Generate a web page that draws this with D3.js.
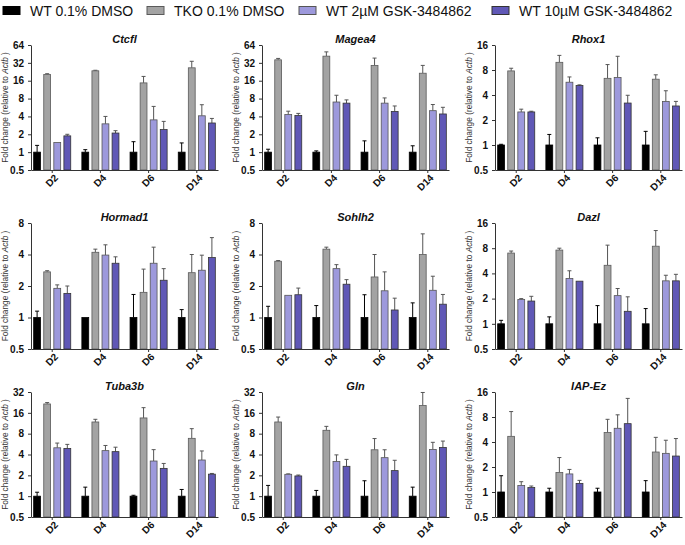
<!DOCTYPE html>
<html>
<head>
<meta charset="utf-8">
<script src="https://cdn.jsdelivr.net/npm/d3@7"></script>
<style>
  body { margin: 0; background: #fff; }
  svg { display: block; font-family: "Liberation Sans", Arial, sans-serif; }
</style>
</head>
<body>
<div id="chart"></div>
<script>
// ---- data ----
const days = ['D2', 'D4', 'D6', 'D14'];
const seriesNames = ['WT 0.1% DMSO', 'TKO 0.1% DMSO', 'WT 2\u00b5M GSK-3484862', 'WT 10\u00b5M GSK-3484862'];
const seriesColors = ['#000000', '#a3a3a3', '#9d99dc', '#6058b6'];
const seriesStroke = ['#000000', '#5a5a5a', '#555555', '#333333'];

const genes = ['Ctcfl', 'Magea4', 'Rhox1', 'Hormad1', 'Sohlh2', 'Dazl', 'Tuba3b', 'Gln', 'IAP-Ez'];
const yTopValues = [64, 64, 16, 8, 8, 16, 32, 32, 16];

// mean per day (rows) x series (cols); err = top of error bar
const ctcflMean   = [[1, 20.4, 1.45, 1.88], [1, 23.5, 3.0, 2.1], [1, 14.7, 3.5, 2.4], [1, 26.4, 4.1, 3.1]];
const ctcflErr    = [[1.3, 21, 1.45, 2.0], [1.1, 24, 4.0, 2.3], [1.5, 18.9, 5.9, 3.3], [1.43, 34, 6.3, 3.7]];
const magea4Mean  = [[1, 36, 4.3, 4.15], [1, 41.5, 7.0, 6.7], [1, 29, 6.7, 4.85], [1, 21.4, 5.0, 4.4]];
const magea4Err   = [[1.12, 38, 4.9, 4.5], [1.05, 49, 9.1, 7.6], [1.55, 38.5, 8.2, 6.0], [1.28, 29, 6.35, 5.7]];
const rhox1Mean   = [[1, 7.8, 2.5, 2.5], [1, 9.9, 5.7, 5.2], [1, 6.35, 6.5, 3.2], [1, 6.2, 3.35, 2.95]];
const rhox1Err    = [[1.02, 8.4, 2.7, 2.55], [1.34, 12, 6.6, 5.3], [1.22, 9.3, 11.7, 3.97], [1.46, 7.0, 4.5, 3.35]];
const hormad1Mean = [[1, 2.73, 1.9, 1.7], [1, 4.2, 3.95, 3.3], [1, 1.74, 3.3, 2.27], [1, 2.68, 2.83, 3.74]];
const hormad1Err  = [[1.15, 2.8, 2.05, 2.0], [1, 4.5, 4.95, 3.8], [1.66, 2.9, 4.7, 2.93], [1.19, 4.0, 3.94, 5.8]];
const sohlh2Mean  = [[1, 3.45, 1.63, 1.65], [1, 4.5, 2.93, 2.08], [1, 2.44, 1.8, 1.18], [1, 4.0, 1.82, 1.34]];
const sohlh2Err   = [[1.28, 3.5, 1.63, 1.91], [1.3, 4.7, 3.2, 2.3], [1.65, 4.0, 2.73, 1.53], [1.38, 6.3, 2.48, 1.66]];
const dazlMean    = [[1, 7.0, 1.95, 1.87], [1, 7.6, 3.48, 3.23], [1, 5.0, 2.17, 1.41], [1, 8.45, 3.26, 3.26]];
const dazlErr     = [[1.1, 7.4, 2.0, 2.13], [1.21, 8.0, 4.3, 3.23], [1.65, 8.7, 2.64, 2.1], [1.52, 13, 3.8, 3.9]];
const tuba3bMean  = [[1, 21.5, 5.0, 4.9], [1, 11.8, 4.55, 4.4], [1, 13.5, 3.22, 2.52], [1, 6.85, 3.33, 2.08]];
const tuba3bErr   = [[1.14, 22.5, 5.85, 5.6], [1.35, 12.9, 5.4, 5.1], [1.03, 19, 4.7, 2.97], [1.25, 9.45, 4.5, 2.13]];
const glnMean     = [[1, 11.8, 2.07, 1.96], [1, 8.95, 3.16, 2.7], [1, 4.68, 3.6, 2.34], [1, 20.4, 4.73, 5.06]];
const glnErr      = [[1.43, 13.9, 2.1, 2.02], [1.21, 10.2, 3.95, 3.4], [1.67, 6.8, 4.68, 3.3], [1.35, 31.5, 6.0, 6.25]];
const iapEzMean   = [[1, 4.68, 1.2, 1.13], [1, 1.72, 1.65, 1.27], [1, 5.2, 5.85, 6.65], [1, 3.03, 2.92, 2.71]];
const iapEzErr    = [[1.57, 9.3, 1.33, 1.18], [1.11, 2.6, 1.87, 1.38], [1.11, 7.5, 8.5, 13.4], [1.37, 4.55, 4.2, 4.4]];

const geneMeans = [ctcflMean, magea4Mean, rhox1Mean, hormad1Mean, sohlh2Mean, dazlMean, tuba3bMean, glnMean, iapEzMean];
const geneErrs  = [ctcflErr, magea4Err, rhox1Err, hormad1Err, sohlh2Err, dazlErr, tuba3bErr, glnErr, iapEzErr];

// ---- layout ----
const width = 685, height = 545;
const colX = [31, 262, 495];
const rowTop = [45, 223, 392];
const rowBottom = [170, 349, 517];
const plotW = 187;
const axisColor = '#333';

const svg = d3.select('#chart').append('svg')
    .attr('width', width)
    .attr('height', height);

// legend
const legendX = [3, 147, 299, 492];
const legend = svg.append('g').attr('class', 'legend');
seriesNames.forEach((name, i) => {
    legend.append('rect')
        .attr('x', legendX[i])
        .attr('y', 6.5)
        .attr('width', 17)
        .attr('height', 8)
        .attr('fill', seriesColors[i])
        .attr('stroke', seriesStroke[i])
        .attr('stroke-width', 1);
    legend.append('text')
        .attr('x', legendX[i] + 27)
        .attr('y', 15.5)
        .attr('font-size', '14px')
        .attr('fill', '#111')
        .text(name);
});

function renderPanel(k) {
    const col = k % 3, row = Math.floor(k / 3);
    const x0 = colX[col];
    const top = rowTop[row], bottom = rowBottom[row];
    const means = geneMeans[k], errs = geneErrs[k];

    const g = svg.append('g');

    const y = d3.scaleLog().base(2)
        .domain([0.5, yTopValues[k]])
        .range([bottom, top]);

    const x = d3.scaleBand()
        .domain(days)
        .range([x0, x0 + plotW])
        .paddingInner(0.21)
        .paddingOuter(0.045);

    const xs = d3.scaleBand()
        .domain(d3.range(seriesNames.length))
        .range([0, x.bandwidth()])
        .paddingInner(0.32)
        .paddingOuter(0.05);

    // bars
    days.forEach((day, di) => {
        const grp = g.append('g');
        means[di].forEach((v, si) => {
            const bx = x(day) + xs(si);
            const bw = xs.bandwidth();
            const cx = bx + bw / 2;
            const ec = si === 0 ? '#000' : '#555';
            // error bar (upper only)
            if (errs[di][si] > v * 1.01) {
                grp.append('line')
                    .attr('x1', cx).attr('x2', cx)
                    .attr('y1', y(v)).attr('y2', y(errs[di][si]))
                    .attr('stroke', ec)
                    .attr('stroke-width', 1);
                grp.append('line')
                    .attr('x1', cx - 2).attr('x2', cx + 2)
                    .attr('y1', y(errs[di][si])).attr('y2', y(errs[di][si]))
                    .attr('stroke', ec)
                    .attr('stroke-width', 1);
            }
            grp.append('rect')
                .attr('x', bx)
                .attr('y', y(v))
                .attr('width', bw)
                .attr('height', bottom - y(v))
                .attr('fill', seriesColors[si])
                .attr('stroke', seriesStroke[si])
                .attr('stroke-width', 0.8);
        });
    });

    // y axis
    const ticks = d3.range(-1, Math.log2(yTopValues[k]) + 1).map(p => Math.pow(2, p));
    const yAxis = g.append('g')
        .attr('transform', `translate(${x0},0)`)
        .call(d3.axisLeft(y).tickValues(ticks).tickFormat(d => d < 1 ? '0.5' : d3.format('d')(d)).tickSize(3).tickSizeOuter(0));
    yAxis.selectAll('text')
        .attr('font-size', '10px')
        .attr('font-weight', 'bold')
        .attr('font-family', '"Liberation Sans", Arial, sans-serif')
        .attr('fill', '#111')
        .attr('dx', '-1');
    yAxis.select('.domain').attr('stroke', axisColor);
    yAxis.selectAll('.tick line').attr('stroke', axisColor);

    // x axis (labels drawn separately, rotated 45 degrees)
    const xAxis = g.append('g')
        .attr('transform', `translate(0,${bottom})`)
        .call(d3.axisBottom(x).tickSize(3).tickSizeOuter(0).tickFormat(''));
    xAxis.select('.domain').attr('stroke', axisColor);
    xAxis.selectAll('.tick line').attr('stroke', axisColor);

    g.selectAll('.xlab')
        .data(days)
        .join('text')
        .attr('class', 'xlab')
        .attr('transform', d => `translate(${x(d) + x.bandwidth() / 2 + 4},${bottom + 6}) rotate(-45)`)
        .attr('text-anchor', 'end')
        .attr('dy', '0.35em')
        .attr('font-size', '10px')
        .attr('font-weight', 'bold')
        .attr('fill', '#111')
        .text(d => d);

    // title
    g.append('text')
        .attr('x', x0 + plotW / 2)
        .attr('y', top - 2)
        .attr('text-anchor', 'middle')
        .attr('font-size', '11px')
        .attr('font-weight', 'bold')
        .attr('font-style', 'italic')
        .attr('fill', '#111')
        .text(genes[k]);

    // y label
    const lab = g.append('text')
        .attr('transform', `translate(${x0 - 23},${(top + bottom) / 2}) rotate(-90)`)
        .attr('text-anchor', 'middle')
        .attr('font-size', '8.3px')
        .attr('fill', '#333');
    lab.append('tspan').text('Fold change (relative to ');
    lab.append('tspan').attr('font-style', 'italic').text('Actb');
    lab.append('tspan').text(' )');
}

genes.forEach((gn, k) => renderPanel(k));
</script>
</body>
</html>
